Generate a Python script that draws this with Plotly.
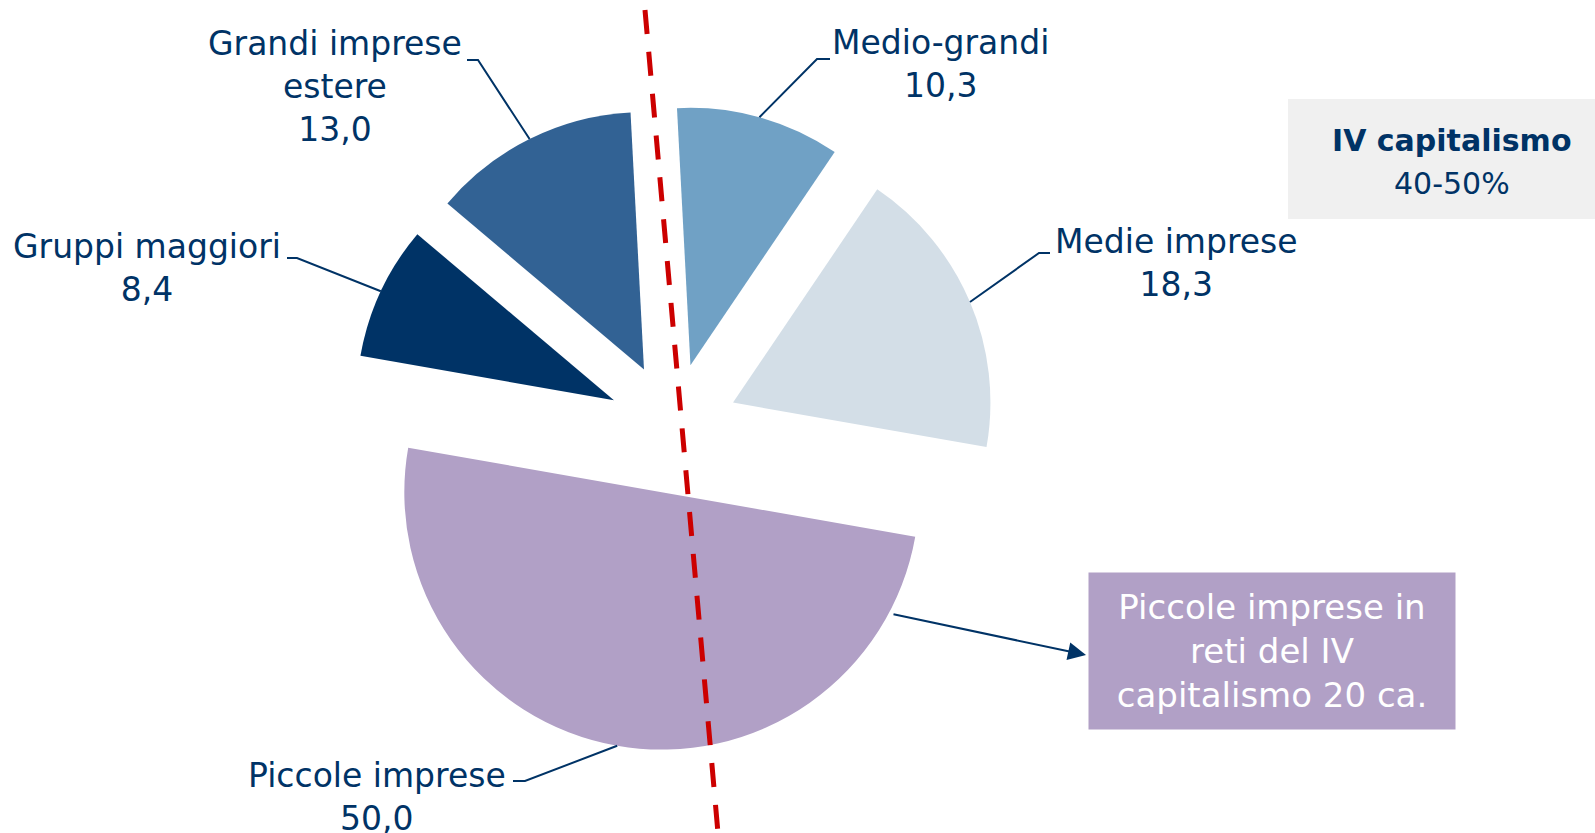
import math
import plotly.graph_objects as go

W, H = 1595, 833

# data
categories = ["Medio-grandi", "Medie imprese", "Piccole imprese", "Gruppi maggiori", "Grandi imprese estere"]
values = [10.3, 18.3, 50.0, 8.4, 13.0]
colors = ["#70A1C5", "#D3DEE7", "#B1A0C6", "#003366", "#326294"]
box_title = "IV capitalismo"
box_range = "40-50%"
network_note = "Piccole imprese in<br>reti del IV<br>capitalismo 20 ca."

TXT = "#003366"
FONT = "DejaVu Sans"
PULL = 0.2533
ROTATION = -3.0
DOM_X = [0.21968, 0.62420]
DOM_Y = [0.09892, 0.87346]


def px(x):
    return x / W


def py(y):
    return 1 - y / H


# label layout: text centre, knee of leader line, end of the short tick
label_layout = {
    "Grandi imprese estere": dict(text="Grandi imprese<br>estere", x=335, y=87, knee=(478, 60), tick=(467, 60)),
    "Gruppi maggiori": dict(text="Gruppi maggiori", x=147, y=268, knee=(297, 258), tick=(287, 258)),
    "Medio-grandi": dict(text="Medio-grandi", x=941, y=64, knee=(817, 59), tick=(830, 59)),
    "Medie imprese": dict(text="Medie imprese", x=1176, y=263, knee=(1039, 253), tick=(1050, 253)),
    "Piccole imprese": dict(text="Piccole imprese", x=377, y=797, knee=(525, 781), tick=(513, 781)),
}

fig = go.Figure()

fig.add_trace(go.Pie(
    labels=categories,
    values=values,
    sort=False,
    direction="clockwise",
    rotation=ROTATION,
    pull=[PULL] * len(values),
    marker=dict(colors=colors, line=dict(width=0)),
    textinfo="none",
    hoverinfo="label+value",
    domain=dict(x=DOM_X, y=DOM_Y),
))

# geometry of the pie as plotly lays it out
box_w = W * (DOM_X[1] - DOM_X[0])
box_h = H * (DOM_Y[1] - DOM_Y[0])
r = min(box_w, box_h) / (2 + 2 * PULL)
cx = W * (DOM_X[0] + DOM_X[1]) / 2
cy = H * (1 - DOM_Y[0]) - box_h / 2

shapes = []
annotations = []
total = sum(values)
angle = ROTATION
for name, v in zip(categories, values):
    span = 360 * v / total
    mid = math.radians(angle + span / 2)
    angle += span
    ax_ = cx + (r + PULL * r) * math.sin(mid)
    ay_ = cy - (r + PULL * r) * math.cos(mid)
    lay = label_layout[name]
    kx, ky = lay["knee"]
    tx, ty = lay["tick"]
    shapes.append(dict(
        type="path", xref="paper", yref="paper",
        path=f"M {px(ax_)} {py(ay_)} L {px(kx)} {py(ky)} L {px(tx)} {py(ty)}",
        line=dict(color=TXT, width=2),
    ))
    val_txt = f"{v:.1f}".replace(".", ",")
    annotations.append(dict(
        x=px(lay["x"]), y=py(lay["y"]), xref="paper", yref="paper",
        text=f"{lay['text']}<br>{val_txt}", showarrow=False,
        xanchor="center", yanchor="middle", align="center",
        font=dict(family=FONT, size=33, color=TXT),
    ))

# red dashed divider
shapes.append(dict(
    type="line", xref="paper", yref="paper",
    x0=px(645), y0=py(10), x1=px(718), y1=py(833),
    line=dict(color="#CC0000", width=5, dash="24px,18px"),
))

# grey box for IV capitalismo
shapes.append(dict(
    type="rect", xref="paper", yref="paper",
    x0=px(1288), y0=py(99), x1=px(1600), y1=py(219),
    fillcolor="#F0F0F0", line=dict(width=0), layer="below",
))
annotations.append(dict(
    x=px(1452), y=py(140), xref="paper", yref="paper",
    text=f"<b>{box_title}</b>", showarrow=False,
    xanchor="center", yanchor="middle",
    font=dict(family=FONT, size=30, color=TXT),
))
annotations.append(dict(
    x=px(1452), y=py(183), xref="paper", yref="paper",
    text=box_range, showarrow=False,
    xanchor="center", yanchor="middle",
    font=dict(family=FONT, size=30, color=TXT),
))

# purple note box with arrow
annotations.append(dict(
    x=px(1272), y=py(651), xref="paper", yref="paper",
    text=network_note, showarrow=False,
    xanchor="center", yanchor="middle", align="center",
    width=364, height=154, bgcolor="#B1A0C6",
    font=dict(family=FONT, size=34, color="white"),
))
annotations.append(dict(
    x=px(1086), y=py(655), xref="paper", yref="paper",
    text="", showarrow=True, ax=892 - 1086, ay=614 - 655,
    arrowhead=2, arrowsize=1.8, arrowwidth=2, arrowcolor=TXT, standoff=0,
))

fig.update_layout(
    width=W, height=H,
    margin=dict(l=0, r=0, t=0, b=0),
    paper_bgcolor="white",
    plot_bgcolor="white",
    showlegend=False,
    shapes=shapes,
    annotations=annotations,
)

# drop the default 8px page margin so the figure fills the window
fig.write_html(
    "out.html",
    config={"displayModeBar": False},
    post_script="document.body.style.margin='0';",
)
